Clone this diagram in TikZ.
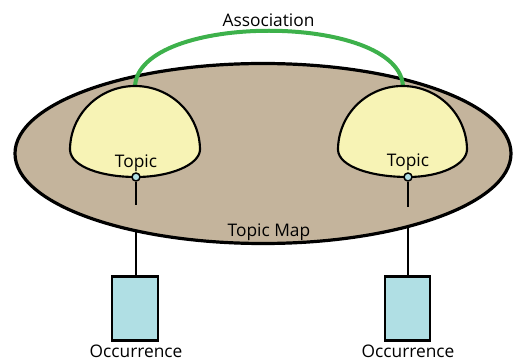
\documentclass[tikz,border=0pt]{standalone}
\usepackage{fontspec}
\setmainfont{Open Sans}
\usetikzlibrary{shapes.geometric}
\definecolor{mapfill}{HTML}{C4B49C}
\definecolor{topicfill}{HTML}{F7F3B5}
\definecolor{occfill}{HTML}{B0DFE4}
\definecolor{assocgreen}{HTML}{3DB14B}
\tikzset{
  mapshape/.style={ellipse, draw=black, fill=mapfill, line width=2.4pt, inner sep=0pt},
  topicshape/.style={draw=black, fill=topicfill, line width=1.6pt, line join=round},
  portdot/.style={circle, draw=black, fill=occfill, line width=1.1pt, minimum size=6pt, inner sep=0pt},
  stem/.style={draw=black, line width=1.6pt},
  occbox/.style={rectangle, draw=black, fill=occfill, line width=1.6pt, minimum width=34pt, minimum height=48pt, inner sep=0pt},
  assoc/.style={draw=assocgreen, line width=3pt},
  label/.style={font=\fontsize{13}{15}\selectfont, anchor=base, inner sep=0pt}
}
\begin{document}
\begin{tikzpicture}[x=0.75pt, y=-0.75pt]
  \useasboundingbox (0,0) rectangle (515,360);

  % the topic map
  \node[mapshape, minimum width=372pt, minimum height=135pt] (map) at (263,153.5) {};

  % association between the two topics
  \coordinate (t1top) at (135,87);
  \coordinate (t2top) at (403,87);
  \draw[assoc] (t1top) .. controls (137,12) and (401,12) .. (t2top);

  % topics: dome with a shallow lower edge
  \draw[topicshape] (70,150) arc[start angle=180, end angle=360, x radius=65, y radius=64]
    .. controls (199,165) and (170,177) .. (136,177)
    .. controls (102,177) and (71,167) .. cycle;
  \draw[topicshape] (338,150) arc[start angle=180, end angle=360, x radius=64.5, y radius=64]
    .. controls (466,165) and (440,177) .. (408,177)
    .. controls (372,177) and (339,167) .. cycle;

  \node[label] (topic1) at (136,168) {Topic};
  \node[label] (topic2) at (408,167) {Topic};

  % ports and stems below the topics
  \coordinate (s1) at (136,205);
  \coordinate (s2) at (408,207);
  \node[portdot] (p1) at (136,177) {};
  \node[portdot] (p2) at (408,177) {};
  \draw[stem] (p1) -- (s1);
  \draw[stem] (p2) -- (s2);

  \node[label] (maplabel) at (269,237) {Topic Map};
  \node[label] (assoclabel) at (268.5,27) {Association};

  % occurrences
  \node[occbox] (occ1) at (135,308.5) {};
  \node[occbox] (occ2) at (407.5,308.5) {};
  \coordinate (m1) at (136,231);
  \coordinate (m2) at (408,228);
  \draw[stem] (m1) -- (occ1.north -| m1);
  \draw[stem] (m2) -- (occ2.north -| m2);
  \node[label] (occlabel1) at (136,357.5) {Occurrence};
  \node[label] (occlabel2) at (408,357.5) {Occurrence};
\end{tikzpicture}
\end{document}
